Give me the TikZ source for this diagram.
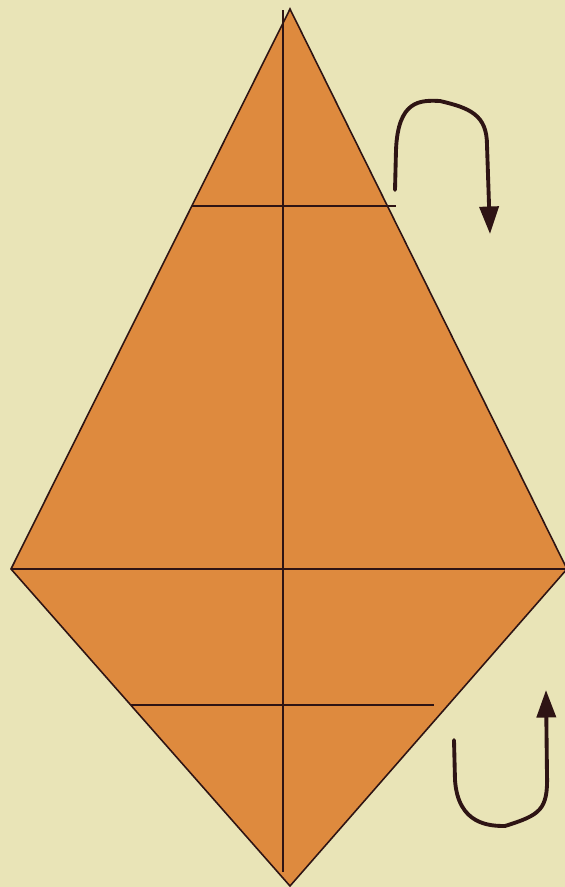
\documentclass[tikz,border=0pt]{standalone}
\usepackage{xcolor}
\usetikzlibrary{arrows.meta,calc}
\definecolor{paper}{HTML}{E9E4B7}
\definecolor{kite}{HTML}{DE8A3E}
\definecolor{ink}{HTML}{2E1414}
\tikzset{
  crease/.style={draw=ink, line width=0.9pt},
  flip/.style={draw=ink, line width=2.2pt, line cap=round, line join=round,
    -{Triangle[length=5.5mm, width=3.8mm]}}
}
\begin{document}
\begin{tikzpicture}[x=0.02cm, y=-0.02cm]
    \fill[paper] (0,0) rectangle (565,887);
    \useasboundingbox (0,0) rectangle (565,887);
    % kite corners
    \coordinate (top) at (290,9);
    \coordinate (left) at (11,569);
    \coordinate (right) at (567,569);
    \coordinate (bot) at (290,886);
    \filldraw[kite, draw=ink, line width=0.9pt, line join=miter] (top) -- (right) -- (bot) -- (left) -- cycle;

    % creases
    \coordinate (ct) at (283,10);
    \coordinate (cb) at (283,872);
    \draw[crease] (ct) -- (cb);
    \draw[crease] (left) -- (right);
    \coordinate (ua) at (192,206);
    \coordinate (ub) at (396,206);
    \draw[crease] (ua) -- (ub);
    \coordinate (la) at (131,705);
    \coordinate (lb) at (434,705);
    \draw[crease] (la) -- (lb);

    % fold arrows
    \coordinate (a1) at (395,190);
    \coordinate (a2) at (490,234);
    \draw[flip] (a1) -- (396,150) .. controls (398,100) and (420,100) .. (440,101)
        .. controls (470,108) and (487,115) .. (487,145) -- (a2);
    \coordinate (b1) at (454,740);
    \coordinate (b2) at (546,690);
    \draw[flip] (b1) -- (455,780) .. controls (458,825) and (490,826) .. (505,826)
        .. controls (540,815) and (548,810) .. (547,775) -- (b2);
\end{tikzpicture}
\end{document}
